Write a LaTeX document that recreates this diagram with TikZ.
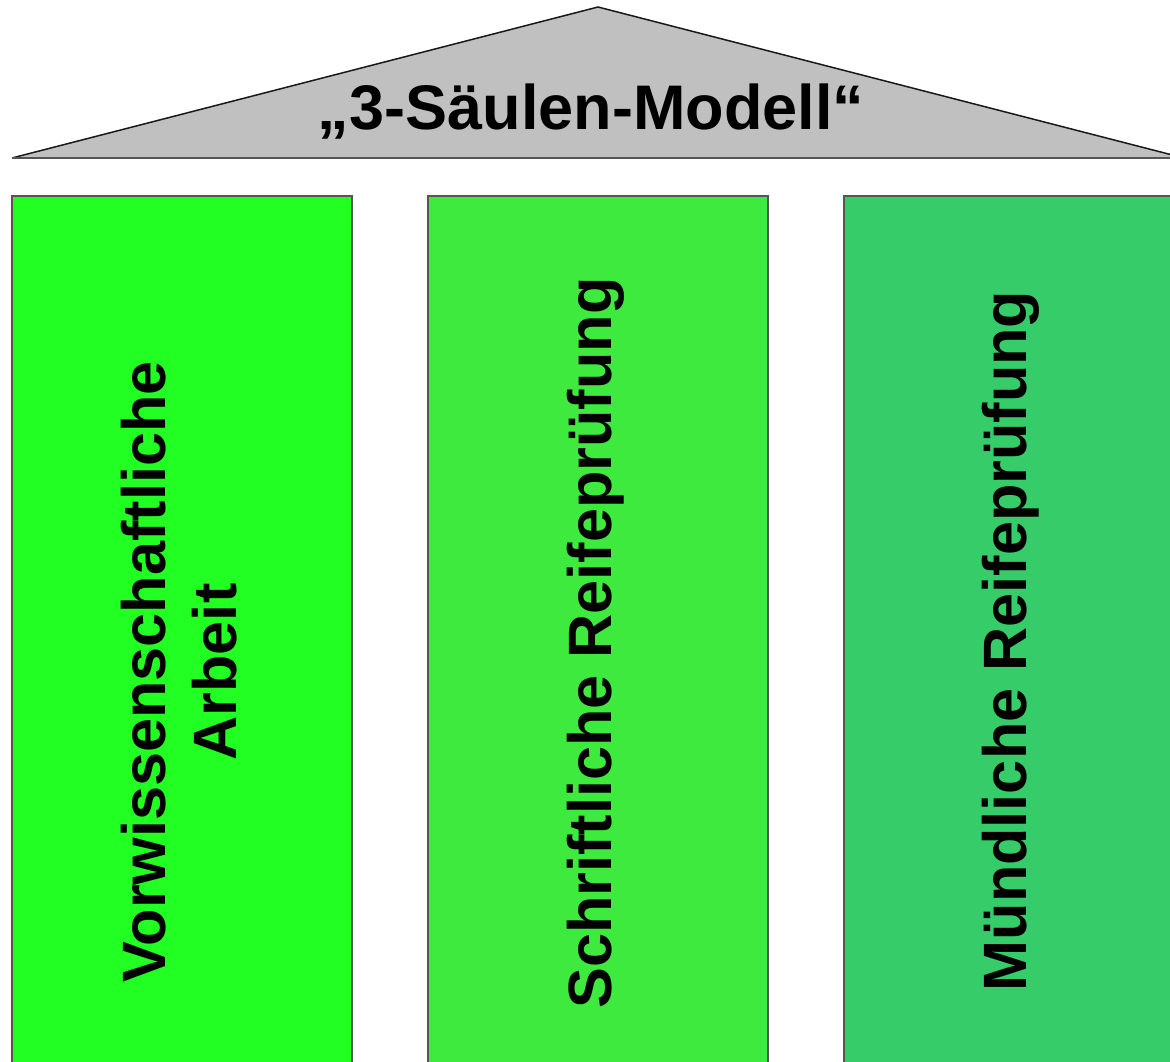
\documentclass[tikz,border=0pt]{standalone}
\usepackage{fontspec}
\setmainfont{Liberation Sans}
\definecolor{roofgray}{HTML}{C0C0C0}
\definecolor{edgegray}{HTML}{555555}
\definecolor{colA}{HTML}{22FF22}
\definecolor{colB}{HTML}{3EEA3E}
\definecolor{colC}{HTML}{36CC6A}
\tikzset{
  pillar/.style={draw=edgegray, line width=1.3pt},
  pillartext/.style={rotate=90, anchor=base, inner sep=0pt, align=center,
    font=\fontsize{61.2}{71}\selectfont\bfseries},
  titletext/.style={anchor=base, inner sep=0pt, font=\fontsize{63}{71}\selectfont\bfseries}
}
\begin{document}
\begin{tikzpicture}[x=1pt,y=-1pt]
\useasboundingbox (0,0) rectangle (1170,1062);
\clip (0,0) rectangle (1170,1062);
% roof
\coordinate (apex) at (598,7);
\coordinate (roofL) at (12,158);
\coordinate (roofR) at (1184,158);
\fill[roofgray] (roofL) -- (apex) -- (roofR) -- cycle;
\draw[line width=1.5pt, black!90] (roofL) -- (apex) -- (roofR);
\draw[line width=2pt, edgegray] (roofL) -- (roofR);
\node[titletext] (title) at (591,130) {„3-Säulen-Modell“};
% pillars
\draw[pillar, fill=colA] (12,196) rectangle (352,1075);
\draw[pillar, fill=colB] (428,196) rectangle (768,1075);
\draw[pillar, fill=colC] (844,196) rectangle (1184,1075);
\node[pillartext] (p1) at (236,672) {Vorwissenschaftliche\\Arbeit};
\node[pillartext] (p2) at (611,643) {Schriftliche Reifeprüfung};
\node[pillartext] (p3) at (1026,641) {Mündliche Reifeprüfung};
\end{tikzpicture}
\end{document}
